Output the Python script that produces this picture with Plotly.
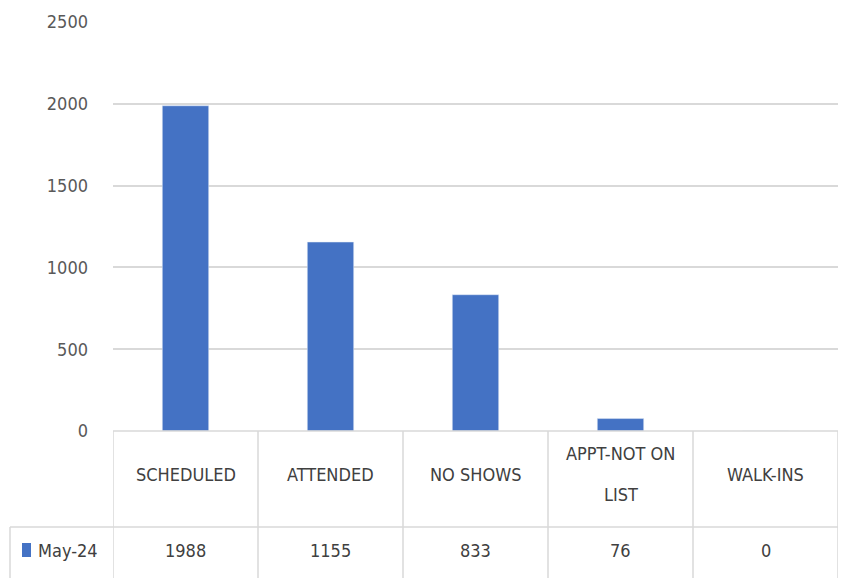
import plotly.graph_objects as go

categories = ["SCHEDULED", "ATTENDED", "NO SHOWS", "APPT-NOT ON<br>LIST", "WALK-INS"]
values = [1988, 1155, 833, 76, 0]
series_name = "May-24"
y_ticks = [0, 500, 1000, 1500, 2000, 2500]

W, H = 842, 578
ML, MR, MT, MB = 113, 4, 22, 147
PW, PH = W - ML - MR, H - MT - MB

FONT = "DejaVu Sans Condensed, Liberation Sans Narrow, Liberation Sans, sans-serif"
FS = 18
BLUE = "#4472C4"
GRID = "#d9d9d9"
TXT = "#404040"


def px_x(p):
    return (p - ML) / PW


def px_y(p):
    return (H - MB - p) / PH


fig = go.Figure()
fig.add_trace(go.Bar(
    x=list(range(len(categories))), y=values, name=series_name,
    marker_color=BLUE, width=0.32, showlegend=False,
))

shapes = []
row_y = px_y(527)
bot_y = px_y(590)
# table frame: column dividers
for i in range(len(categories) + 1):
    shapes.append(dict(type="line", xref="x", yref="paper", x0=i - 0.5, x1=i - 0.5,
                       y0=0, y1=bot_y, line=dict(color=GRID, width=1.5)))
# header top and row divider
shapes.append(dict(type="line", xref="paper", yref="paper", x0=0, x1=1, y0=0, y1=0,
                   line=dict(color=GRID, width=1.5)))
shapes.append(dict(type="line", xref="paper", yref="paper", x0=px_x(10), x1=1,
                   y0=row_y, y1=row_y, line=dict(color=GRID, width=1.5)))
shapes.append(dict(type="line", xref="paper", yref="paper", x0=px_x(10), x1=px_x(10),
                   y0=row_y, y1=bot_y, line=dict(color=GRID, width=1.5)))
# legend key
shapes.append(dict(type="rect", xref="paper", yref="paper", x0=px_x(22), x1=px_x(31),
                   y0=px_y(557), y1=px_y(543), fillcolor=BLUE, line=dict(width=0)))

annotations = []
for i, (c, v) in enumerate(zip(categories, values)):
    lines = c.split("<br>")
    spacing = 41
    start = 474 - spacing * (len(lines) - 1) / 2
    for k, line in enumerate(lines):
        annotations.append(dict(x=i, y=px_y(start + k * spacing), xref="x", yref="paper",
                                text=line, showarrow=False,
                                font=dict(family=FONT, size=FS, color=TXT),
                                xanchor="center", yanchor="middle"))
    annotations.append(dict(x=i, y=px_y(550), xref="x", yref="paper", text=str(v),
                            showarrow=False, font=dict(family=FONT, size=FS, color=TXT),
                            xanchor="center", yanchor="middle"))
annotations.append(dict(x=px_x(36), y=px_y(550), xref="paper", yref="paper", text=series_name,
                        showarrow=False, font=dict(family=FONT, size=FS, color=TXT),
                        xanchor="left", yanchor="middle"))

fig.update_layout(
    width=W, height=H,
    margin=dict(l=ML, r=MR, t=MT, b=MB),
    paper_bgcolor="white", plot_bgcolor="white",
    xaxis=dict(range=[-0.5, len(categories) - 0.5], showticklabels=False, showgrid=False,
               zeroline=False, showline=False, fixedrange=True),
    yaxis=dict(range=[0, 2500], tickvals=y_ticks, showgrid=True, gridcolor=GRID, gridwidth=1.5,
               zeroline=False, showline=False, ticks="", ticklabelstandoff=24,
               tickfont=dict(family=FONT, size=FS, color="#595959")),
    shapes=shapes, annotations=annotations,
)

fig.write_html("out.html")
